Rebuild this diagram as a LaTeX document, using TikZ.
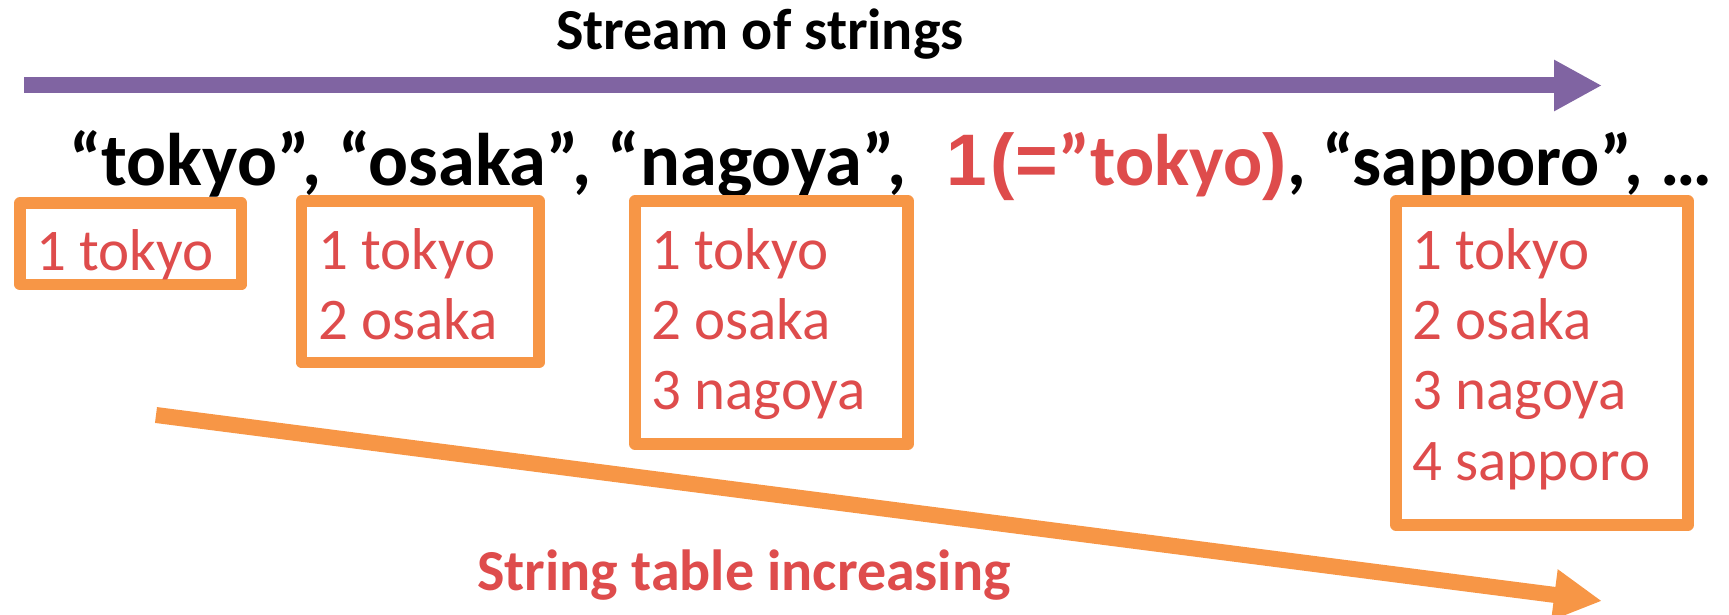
\documentclass[tikz,border=0pt]{standalone}
\usepackage{fontspec}
\setmainfont{Carlito}
\newfontfamily\arialfont{Liberation Sans}
\usetikzlibrary{arrows.meta}

\definecolor{streampurple}{RGB}{128,100,162}
\definecolor{tableorange}{RGB}{247,150,70}
\definecolor{entryred}{RGB}{222,76,76}

\tikzset{
  bigarrow/.style={line width=16pt, -{Triangle[length=48pt 0,width=48pt 0]}},
  tablebox/.style={draw=tableorange, line width=11.5pt, line join=round},
  entry/.style={anchor=base west, inner sep=0pt, text=entryred,
                font=\fontsize{59}{70}\selectfont},
  stream/.style={anchor=base west, inner sep=0pt,
                 font=\fontsize{73}{80}\selectfont\bfseries},
  caption/.style={anchor=base, inner sep=0pt,
                  font=\fontsize{58}{64}\selectfont\bfseries}
}

\begin{document}
\begin{tikzpicture}[x=1pt, y=-1pt]
  \useasboundingbox (0,0) rectangle (1729,615);

  % stream direction
  \node[caption] (streamtitle) at (760,50) {Stream of strings};
  \coordinate (streamstart) at (24,85.5);
  \coordinate (streamend) at (1602,85.5);
  \draw[bigarrow, streampurple] (streamstart) -- (streamend);

  % the incoming strings
  \node[stream, font=\fontsize{74.5}{80}\selectfont\bfseries] (firstwords) at (69,185)
    {“tokyo”, “osaka”, “nagoya”,};
  \node[stream, text=entryred] (backref) at (946,185)
    {{\arialfont 1\kern4pt(=}\kern1pt”tokyo{\arialfont )}};
  \node[stream] (lastwords) at (backref.base east) {, “sapporo”, …};

  % string tables after each new string
  \draw[tablebox] (20,203) rectangle (241.5,284.5);
  \draw[tablebox] (301.5,201) rectangle (539,362.5);
  \draw[tablebox] (635,201) rectangle (908,444);
  \draw[tablebox] (1396,201) rectangle (1688,525);

  \node[entry] (ta1) at (36,270) {1 tokyo};

  \node[entry] (tb1) at (318,269) {1 tokyo};
  \node[entry] (tb2) at (318,339) {2 osaka};

  \node[entry] (tc1) at (651,269) {1 tokyo};
  \node[entry] (tc2) at (651,339) {2 osaka};
  \node[entry] (tc3) at (651,409) {3 nagoya};

  \node[entry] (td1) at (1412,269) {1 tokyo};
  \node[entry] (td2) at (1412,339) {2 osaka};
  \node[entry] (td3) at (1412,409) {3 nagoya};
  \node[entry] (td4) at (1412,480) {4 sapporo};

  % growth of the table
  \coordinate (growstart) at (156,415);
  \coordinate (growend) at (1602,601);
  \draw[bigarrow, tableorange] (growstart) -- (growend);
  \node[caption, text=entryred] (growtitle) at (744,590) {String table increasing};
\end{tikzpicture}
\end{document}
